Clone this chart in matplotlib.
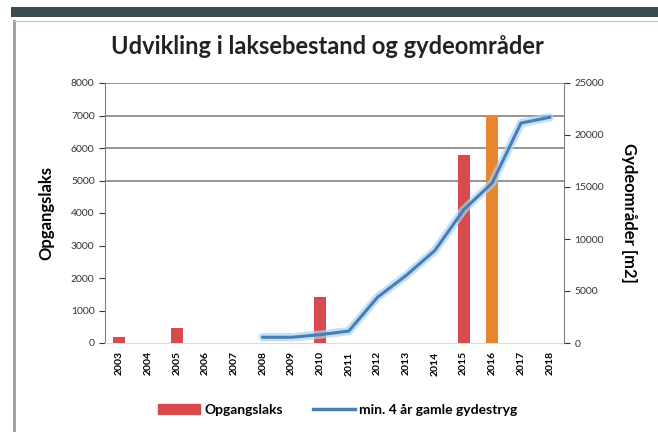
import matplotlib
matplotlib.use('Agg')
import matplotlib.pyplot as plt
import numpy as np
from matplotlib.patches import Rectangle, Patch
from matplotlib.lines import Line2D

plt.rcParams['font.family'] = ['Lato', 'DejaVu Sans']

aar = ['2003', '2004', '2005', '2006', '2007', '2008', '2009', '2010',
       '2011', '2012', '2013', '2014', '2015', '2016', '2017', '2018']
opgangslaks = [200, 0, 450, 0, 0, 0, 0, 1430, 0, 0, 0, 0, 5780, 7000, 0, 0]
bar_farver = ['#d94a4f'] * 16
bar_farver[13] = '#e8862f'
gydestryg = [np.nan] * 5 + [550, 550, 800, 1150, 4400, 6500, 8900, 12800, 15400, 21150, 21700]

fig = plt.figure(figsize=(6.58, 4.32), dpi=100)
fig.patch.set_facecolor('white')

# ramme og mørk bjælke øverst
fig.patches.append(Rectangle((11 / 658, 1 - 17 / 432), 1, 10 / 432, transform=fig.transFigure,
                             facecolor='#3b4d52', edgecolor='none'))
fig.lines.append(Line2D([14 / 658, 14 / 658], [0, 1 - 21 / 432], transform=fig.transFigure,
                        color='#9a9a9a', lw=2))
fig.lines.append(Line2D([14 / 658, 1], [1 - 21 / 432, 1 - 21 / 432], transform=fig.transFigure,
                        color='#c8c8c8', lw=1))

ax = fig.add_axes([105 / 658, 1 - 343 / 432, 459 / 658, 260 / 432])
x = np.arange(len(aar))
ax.bar(x, opgangslaks, width=0.42, color=bar_farver, zorder=3)
ax.set_xlim(-0.5, len(aar) - 0.5)
ax.set_ylim(0, 8000)
ax.set_yticks(range(0, 8001, 1000))
for v in [5000, 6000, 7000, 8000]:
    ax.axhline(v, color='#8c8c8c', lw=1.3, zorder=1)
ax.set_xticks(x)
ax.set_xticklabels(aar, rotation=90, fontsize=7.5, fontweight='bold')
ax.tick_params(axis='x', length=0, pad=6)
ax.tick_params(axis='y', labelsize=7.5, colors='#333333', length=4)
for s in ['top', 'right']:
    ax.spines[s].set_visible(False)
ax.spines['left'].set_color('#808080')
ax.spines['bottom'].set_color('#dddddd')
ax.set_ylabel('Opgangslaks', fontsize=12, fontweight='bold', labelpad=12)

ax2 = ax.twinx()
ax2.plot(x, gydestryg, color='#a9d3ee', lw=6, alpha=0.7, zorder=2, solid_capstyle='round')
ax2.plot(x, gydestryg, color='#4a7db5', lw=2.2, zorder=4)
ax2.set_ylim(0, 25000)
ax2.set_yticks(range(0, 25001, 5000))
ax2.tick_params(axis='y', labelsize=7.5, colors='#333333', length=4)
for s in ['top', 'left', 'bottom']:
    ax2.spines[s].set_visible(False)
ax2.spines['right'].set_color('#808080')
ax2.set_ylabel('Gydeområder [m2]', fontsize=12, fontweight='bold', rotation=270, labelpad=24)

fig.text(327 / 658, 1 - 47 / 432, 'Udvikling i laksebestand og gydeområder',
         ha='center', va='center', fontsize=17, fontweight='bold', color='#222222')

handles = [Patch(color='#d94a4f'), Line2D([], [], color='#4a7db5', lw=2.5)]
fig.legend(handles, ['Opgangslaks', 'min. 4 år gamle gydestryg'],
           loc='center', bbox_to_anchor=(338 / 658, 1 - 410 / 432), ncol=2,
           frameon=False, prop={'size': 10, 'weight': 'bold'}, columnspacing=2.2,
           handlelength=3, handletextpad=0.3)

fig.savefig('out.png', dpi=100)
